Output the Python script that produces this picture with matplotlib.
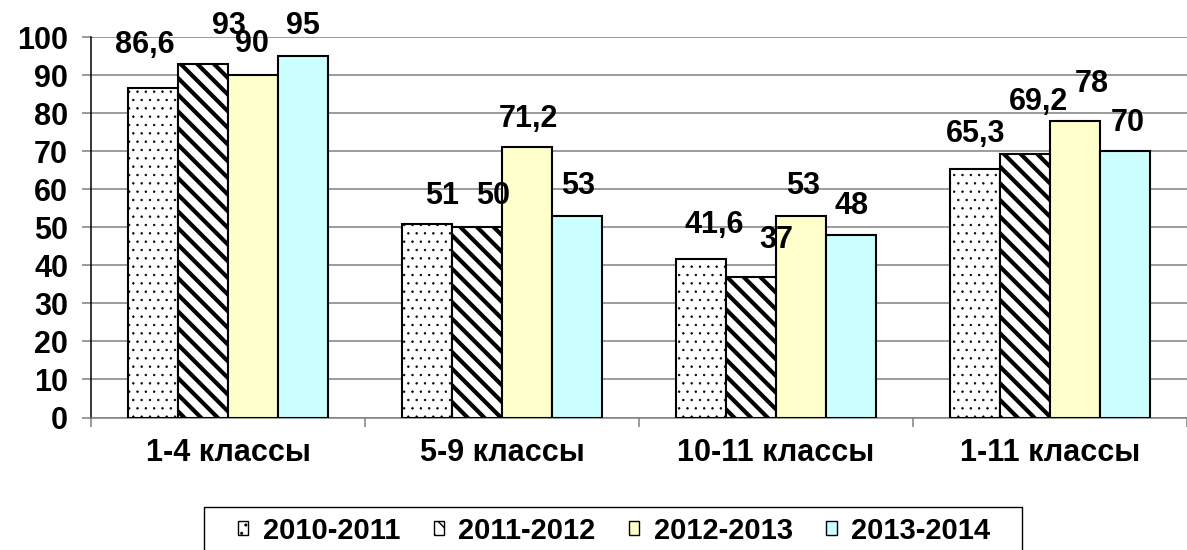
import matplotlib
matplotlib.use("Agg")
import matplotlib.pyplot as plt
import numpy as np
from matplotlib.patches import Patch, Rectangle

plt.rcParams['font.family'] = ['Liberation Sans', 'DejaVu Sans']
plt.rcParams['font.weight'] = 'bold'

# data
categories = ['1-4 классы', '5-9 классы', '10-11 классы', '1-11 классы']
years = ['2010-2011', '2011-2012', '2012-2013', '2013-2014']
v_2010 = [86.6, 51, 41.6, 65.3]
v_2011 = [93, 50, 37, 69.2]
v_2012 = [90, 71.2, 53, 78]
v_2013 = [95, 53, 48, 70]
series = [v_2010, v_2011, v_2012, v_2013]

# where the value labels sit (x relative to category centre, y in data units)
label_dx = [[-0.302, -0.219, -0.224, -0.273],
            [0.004, -0.034, 0.0, -0.042],
            [0.087, 0.096, 0.098, 0.154],
            [0.275, 0.276, 0.275, 0.285]]
label_y = [[97.9, 58.3, 50.7, 74.5],
           [102.9, 58.3, 46.7, 82.9],
           [98.2, 78.5, 60.9, 87.7],
           [102.9, 60.9, 55.6, 77.4]]

faces = ['white', 'white', '#FFFFCC', '#CCFFFF']
hatches = ['..', '\\\\', None, None]
hatch_lw = [0.5, 3.0, 1.0, 1.0]

fig = plt.figure(figsize=(11.87, 5.5), dpi=100)
ax = fig.add_axes([0.0767, 0.2409, 0.9233, 0.6915])

x = np.arange(len(categories))
w = 0.1826
for i, vals in enumerate(series):
    with plt.rc_context({'hatch.linewidth': hatch_lw[i]}):
        bars = ax.bar(x + (i - 1.5) * w, vals, w, color=faces[i],
                      edgecolor='black', linewidth=1.5, hatch=hatches[i],
                      zorder=3)
    for b in bars:
        if hasattr(b, 'set_hatch_linewidth'):
            b.set_hatch_linewidth(hatch_lw[i])
    for j, v in enumerate(vals):
        ax.text(x[j] + label_dx[i][j], label_y[i][j],
                f"{v:g}".replace('.', ','), ha='center', va='center',
                fontsize=22, fontweight='bold', zorder=4, clip_on=False)

ax.set_xlim(-0.5, 3.464)
ax.set_ylim(0, 100)
ax.set_yticks(np.arange(0, 101, 10))
ax.yaxis.grid(True, color='#808080', linewidth=1.1, zorder=0)
ax.set_axisbelow(True)

# category boundaries as major ticks, names on minor ticks
ax.set_xticks(np.arange(-0.5, 4.0, 1.0))
ax.set_xticklabels([])
ax.set_xticks(x, minor=True)
ax.set_xticklabels(categories, minor=True, fontsize=22, fontweight='bold')
ax.tick_params(axis='x', which='minor', length=0, pad=15)
ax.tick_params(axis='x', which='major', length=6.5, width=1.1,
               color='#808080', direction='out')
ax.tick_params(axis='y', length=6.5, width=1.1, color='#808080',
               direction='out', labelsize=22, pad=10)
for lab in ax.get_yticklabels():
    lab.set_fontweight('bold')

ax.spines['top'].set_visible(False)
ax.spines['right'].set_visible(False)
ax.spines['left'].set_color('black')
ax.spines['left'].set_linewidth(1.1)
ax.spines['bottom'].set_color('#808080')
ax.spines['bottom'].set_linewidth(1.1)

# legend box runs off the bottom of the picture like the original
fig.patches.append(Rectangle((204 / 1187, -0.05), 818 / 1187, 0.05 + 43 / 550,
                             transform=fig.transFigure, facecolor='white',
                             edgecolor='black', linewidth=1.0, zorder=5))
handles = [Patch(facecolor=faces[i], edgecolor='black', hatch=hatches[i],
                 linewidth=1.0, label=years[i]) for i in range(4)]
leg = fig.legend(handles=handles, loc='upper left', ncol=4,
                 bbox_to_anchor=(232 / 1187, 1 - 511 / 550),
                 bbox_transform=fig.transFigure, borderaxespad=0,
                 handlelength=0.35, handleheight=0.35,
                 handletextpad=0.5, columnspacing=1.15, borderpad=0.2,
                 frameon=False, prop={'weight': 'bold', 'size': 21})
leg.set_zorder(6)

fig.savefig('out.png', dpi=100)
